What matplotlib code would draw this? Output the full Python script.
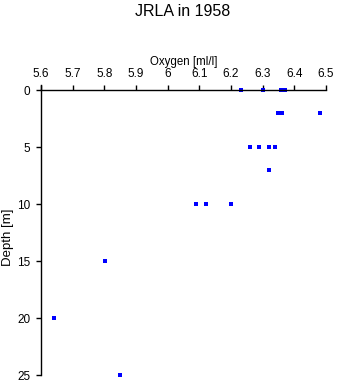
"""Oxygen profile scatter, JRLA 1958."""
import numpy as np
import matplotlib
matplotlib.use("Agg")
import matplotlib.pyplot as plt

plt.rcParams["font.family"] = ["Liberation Sans", "DejaVu Sans"]

oxygen = [6.231, 6.302, 6.359, 6.371,
          6.347, 6.361, 6.481,
          6.261, 6.289, 6.321, 6.340,
          6.321,
          6.090, 6.121, 6.201,
          5.801, 5.642, 5.850]
depth = [0, 0, 0, 0,
         2, 2, 2,
         5, 5, 5, 5,
         7,
         10, 10, 10,
         15, 20, 25]
xticks = [5.6, 5.7, 5.8, 5.9, 6.0, 6.1, 6.2, 6.3, 6.4, 6.5]
xticklabels = ["5.6", "5.7", "5.8", "5.9", "6", "6.1", "6.2", "6.3", "6.4", "6.5"]
yticks = [0, 5, 10, 15, 20, 25]

fig = plt.figure(figsize=(3.37, 3.84), dpi=100)
ax = fig.add_axes([41 / 337, 1 - 375.3 / 384, 285 / 337, 290.3 / 384])
ax.plot(oxygen, depth, "s", color="#0000ff", markersize=2.3, markeredgewidth=0,
        clip_on=False)

ax.set_xlim(5.6, 6.5)
ax.set_ylim(25, -0.44)
ax.spines["right"].set_visible(False)
ax.spines["bottom"].set_visible(False)
ax.spines["top"].set_position(("data", 0))
ax.xaxis.tick_top()
ax.xaxis.set_label_position("top")
ax.set_xticks(xticks, xticklabels)
ax.set_yticks(yticks)
ax.tick_params(axis="x", direction="out", length=3.6, width=1, labelsize=8.5, pad=3.6)
ax.tick_params(axis="y", direction="out", length=3.6, width=1, labelsize=8.5, pad=4)
for s in ("top", "left"):
    ax.spines[s].set_linewidth(1)
ax.set_xlabel("Oxygen [ml/l]", fontsize=8.3, labelpad=2)

# y label placed in figure pixels so it sits against the left edge
fig.text(8.5 / 337, 1 - 237 / 384, "Depth [m]", rotation=90, ha="center",
         va="center", fontsize=9.5)
fig.text(183 / 337, 1 - 12 / 384, "JRLA in 1958", ha="center", va="center",
         fontsize=11.5)
fig.savefig("out.png", dpi=100)
